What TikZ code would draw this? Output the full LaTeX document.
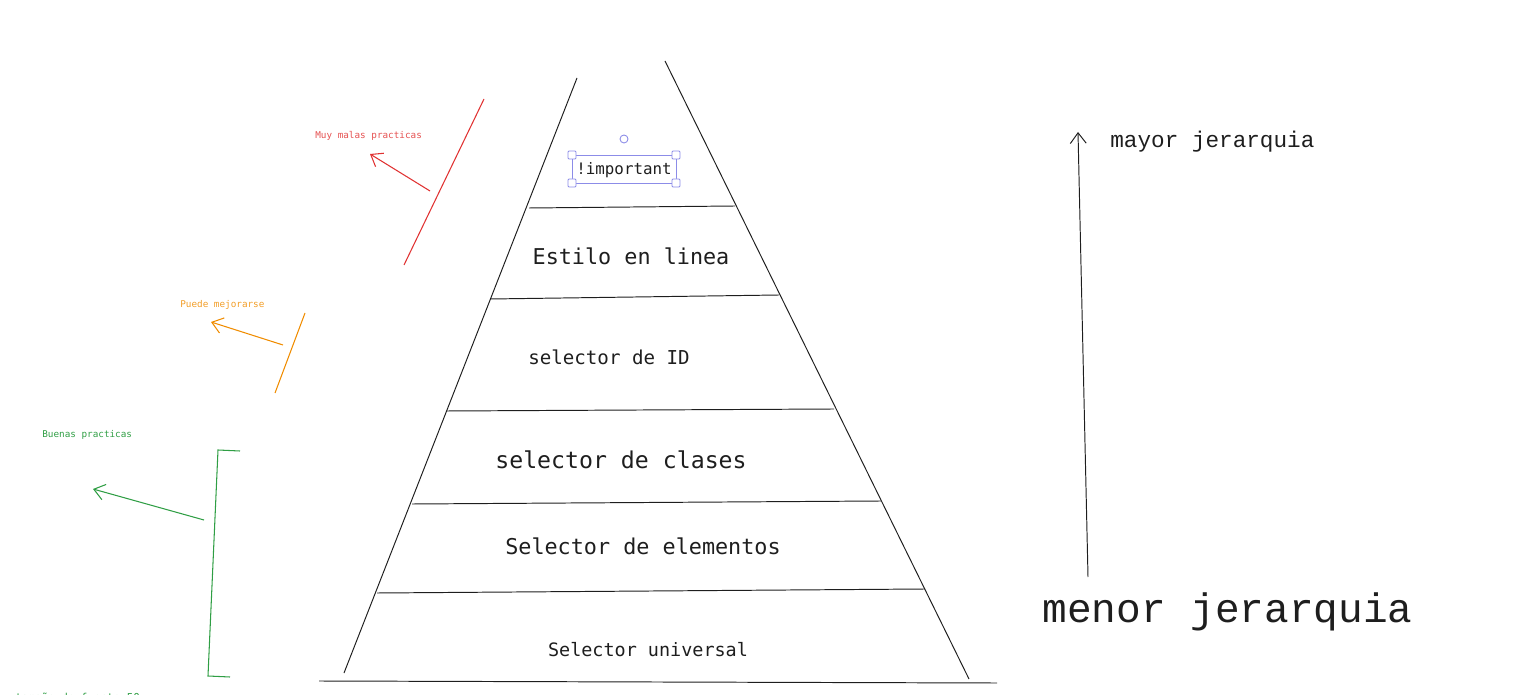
\documentclass[tikz,border=0pt]{standalone}
\usepackage{fontspec}
\setmonofont{DejaVu Sans Mono}
\newfontfamily\couriermono{Liberation Mono}
\usetikzlibrary{arrows.meta}

\definecolor{redline}{HTML}{E03131}
\definecolor{orangeline}{HTML}{F08C00}
\definecolor{greenline}{HTML}{2F9E44}
\definecolor{selectblue}{HTML}{8C8CE8}
\definecolor{inkgray}{HTML}{1E1E1E}

\begin{document}
\begin{tikzpicture}
[x=0.02cm, y=-0.02cm,
 level/.style={font=\ttfamily, text=inkgray, inner sep=0pt},
 note/.style={font=\ttfamily\fontsize{5.3}{6}\selectfont, inner sep=0pt, anchor=west},
 edge/.style={draw=inkgray, line width=0.55pt},
 pen/.style={line width=0.6pt},
 barb/.style={-{Straight Barb[length=6pt, width=9pt]}},
 handle/.style={draw=selectblue, fill=white, line width=0.5pt, rounded corners=0.6pt}]

\clip (0,0) rectangle (1531,695);

%Pyramid
\draw[edge] (577,78) -- (344,673);
\draw[edge] (665,61) -- (969,679);
\draw[edge] (319,681) -- (997,683);
\draw[edge] (529,208) -- (735,206);
\draw[edge] (490,299) -- (779,295);
\draw[edge] (446,411) -- (834,409);
\draw[edge] (412,504) -- (881,501);
\draw[edge] (377,593) -- (925,589);

%Nodes
\node[level, font=\ttfamily\fontsize{9}{10}\selectfont] (important) at (624,170) {!important};
\node[level, font=\ttfamily\fontsize{12.4}{14}\selectfont] (inline) at (631,256) {Estilo en linea};
\node[level, font=\ttfamily\fontsize{10.9}{12}\selectfont] (idsel) at (609,357) {selector de ID};
\node[level, font=\ttfamily\fontsize{13.2}{15}\selectfont] (classsel) at (621,460) {selector de clases};
\node[level, font=\ttfamily\fontsize{12.4}{14}\selectfont] (elemsel) at (643,546) {Selector de elementos};
\node[level, font=\ttfamily\fontsize{10.5}{12}\selectfont] (universal) at (648,650) {Selector universal};

\node[text=inkgray, inner sep=0pt, anchor=base west, font=\couriermono\fontsize{12.9}{14}\selectfont] (mayor) at (1110,148) {mayor jerarquia};
\node[text=inkgray, inner sep=0pt, anchor=base west, font=\couriermono\fontsize{23.4}{26}\selectfont] (menor) at (1042,622) {menor jerarquia};

\node[note, text=redline!85] (malas) at (315,136) {Muy malas practicas};
\node[note, text=orangeline!85] (mejorar) at (180,305) {Puede mejorarse};
\node[note, text=greenline] (buenas) at (42,435) {Buenas practicas};
\node[note, text=greenline, anchor=base west, font=\ttfamily\fontsize{6.2}{7}\selectfont] (tamano) at (15,701) {tamaño de fuente 50};

%Selection box
\draw[selectblue, line width=0.5pt] (572,155) rectangle (676,183);
\foreach \hx/\hy in {572/155, 676/155, 572/183, 676/183}
  \draw[handle] (\hx-4,\hy-4) rectangle (\hx+4,\hy+4);
\draw[handle, rounded corners=0pt] (624,139) circle (4);

%Coordinates
\coordinate (redtail) at (430,191);
\coordinate (redtip) at (370,154);
\coordinate (orangetail) at (283,345);
\coordinate (orangetip) at (211,322);
\coordinate (greentail) at (204,520);
\coordinate (greentip) at (93,489);
\coordinate (lowend) at (1088,577);
\coordinate (highend) at (1078,132);

%Lines
\draw[pen, redline] (484,99) -- (404,265);
\draw[pen, redline, barb] (redtail) -- (redtip);
\draw[pen, orangeline] (305,313) -- (275,393);
\draw[pen, orangeline, barb] (orangetail) -- (orangetip);
\draw[pen, greenline] (240,451) -- (218,450) -- (208,676) -- (230,677);
\draw[pen, greenline, barb] (greentail) -- (greentip);
\draw[edge, barb] (lowend) -- (highend);

\end{tikzpicture}
\end{document}
